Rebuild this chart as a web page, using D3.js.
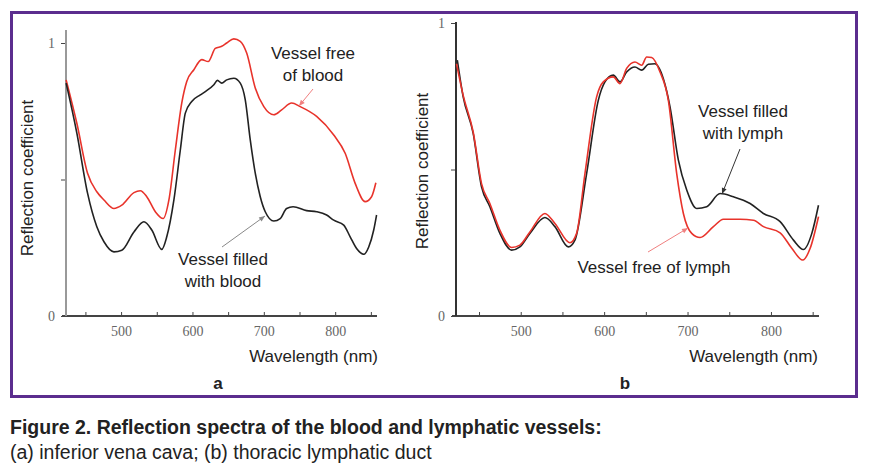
<!DOCTYPE html>
<html>
<head>
<meta charset="utf-8">
<script src="https://cdn.jsdelivr.net/npm/d3@7"></script>
<style>
  body { margin: 0; background: #fff; }
  svg { display: block; }
  .tick text { font-family: "Liberation Serif", "DejaVu Serif", serif; font-size: 14px; fill: #666; }
  .lbl { font-family: "Liberation Sans", Arial, sans-serif; font-size: 17px; fill: #222; }
</style>
</head>
<body>
<svg id="chart" width="869" height="473"></svg>
<script>
// wavelength (nm), one array per curve
const aBloodW = [423, 438, 453, 466, 476, 490, 501, 518, 532, 543, 557, 564, 574, 583, 590, 599, 611, 618, 630, 635, 641, 648, 658, 667, 674, 681, 688, 695, 702, 714, 723, 732, 741, 760, 774, 788, 798, 812, 821, 830, 840, 847, 854, 858];
const aBloodV = [0.853, 0.67, 0.45, 0.327, 0.272, 0.235, 0.241, 0.308, 0.345, 0.315, 0.244, 0.29, 0.425, 0.608, 0.743, 0.786, 0.81, 0.822, 0.847, 0.863, 0.853, 0.865, 0.871, 0.853, 0.792, 0.645, 0.523, 0.437, 0.382, 0.348, 0.357, 0.394, 0.40, 0.386, 0.382, 0.37, 0.351, 0.333, 0.29, 0.247, 0.226, 0.253, 0.315, 0.37];

const aFreeW = [423, 438, 453, 466, 476, 490, 501, 518, 527, 536, 548, 559, 567, 576, 585, 592, 602, 613, 622, 632, 641, 648, 658, 667, 676, 688, 700, 714, 725, 739, 751, 774, 798, 814, 828, 842, 851, 857];
const aFreeV = [0.865, 0.706, 0.523, 0.455, 0.425, 0.394, 0.406, 0.452, 0.459, 0.437, 0.382, 0.357, 0.425, 0.608, 0.78, 0.859, 0.902, 0.939, 0.932, 0.98, 0.988, 1.0, 1.015, 1.006, 0.963, 0.835, 0.767, 0.737, 0.755, 0.78, 0.767, 0.731, 0.663, 0.596, 0.486, 0.419, 0.437, 0.488];

const bLymphW = [424, 431, 443, 453, 463, 475, 489, 499, 511, 529, 541, 557, 565, 579, 593, 601, 611, 619, 627, 637, 645, 653, 661, 671, 679, 689, 699, 711, 723, 739, 755, 775, 791, 811, 827, 839, 849, 857];
const bLymphV = [0.873, 0.748, 0.623, 0.441, 0.373, 0.282, 0.225, 0.236, 0.282, 0.336, 0.305, 0.236, 0.259, 0.486, 0.736, 0.799, 0.822, 0.799, 0.833, 0.85, 0.839, 0.859, 0.861, 0.81, 0.714, 0.532, 0.43, 0.367, 0.373, 0.418, 0.407, 0.384, 0.35, 0.322, 0.259, 0.227, 0.282, 0.378];

const bFreeW = [423, 431, 443, 453, 463, 475, 489, 499, 511, 529, 541, 559, 567, 577, 591, 599, 611, 619, 627, 637, 645, 651, 657, 667, 677, 687, 695, 705, 715, 731, 743, 763, 779, 791, 811, 825, 838, 847, 857];
const bFreeV = [0.861, 0.753, 0.628, 0.452, 0.384, 0.293, 0.234, 0.242, 0.287, 0.35, 0.316, 0.25, 0.282, 0.486, 0.748, 0.799, 0.816, 0.793, 0.845, 0.867, 0.856, 0.884, 0.882, 0.833, 0.736, 0.486, 0.35, 0.282, 0.268, 0.305, 0.33, 0.33, 0.327, 0.305, 0.284, 0.231, 0.191, 0.231, 0.339];

const xTicks = [450, 500, 550, 600, 650, 700, 750, 800, 850];
const yTicks = [0, 0.5, 1];

const RED = "#e8332b", BLACK = "#222";

const svg = d3.select("svg#chart");

// purple frame round both panels
svg.append("rect")
  .attr("x", 11.5).attr("y", 12.5)
  .attr("width", 845).attr("height", 384)
  .attr("fill", "none")
  .attr("stroke", "#5b2d8e")
  .attr("stroke-width", 3);

const zip = (w, v) => w.map((d, i) => [d, v[i]]);

const drawPanel = (opt) => {
  const x = d3.scaleLinear().domain([420, 860]).range(opt.xr);
  const y = d3.scaleLinear().domain([0, 1]).range(opt.yr);
  const g = svg.append("g");

  const xAxis = d3.axisBottom(x)
    .tickValues(xTicks)
    .tickSize(-4)
    .tickPadding(10)
    .tickFormat((d) => d % 100 === 0 ? d : "");
  const gx = g.append("g")
    .attr("transform", `translate(0,${opt.yr[0]})`)
    .call(xAxis);
  gx.select(".domain").remove();
  gx.selectAll(".tick line").attr("stroke", "#444");
  g.append("line")
    .attr("x1", opt.axX[0]).attr("x2", opt.axX[1])
    .attr("y1", opt.yr[0]).attr("y2", opt.yr[0])
    .attr("stroke", "#444").attr("stroke-width", 2);

  const yAxis = d3.axisLeft(y)
    .tickValues(yTicks)
    .tickSize(5)
    .tickPadding(6)
    .tickFormat((d) => d === 0.5 ? "" : d);
  const gy = g.append("g")
    .attr("transform", `translate(${opt.xr[0] + opt.yOff},0)`)
    .call(yAxis);
  gy.select(".domain").remove();
  gy.selectAll(".tick line").attr("stroke", "#444");
  g.append("line")
    .attr("x1", opt.xr[0] + opt.yOff).attr("x2", opt.xr[0] + opt.yOff)
    .attr("y1", opt.yr[0]).attr("y2", opt.axTop)
    .attr("stroke", opt.yColor).attr("stroke-width", 2);

  const line = d3.line()
    .x((d) => x(d[0]))
    .y((d) => y(d[1]))
    .curve(d3.curveMonotoneX);

  opt.series.forEach((s) => {
    g.append("path")
      .datum(s.data)
      .attr("fill", "none")
      .attr("stroke", s.color)
      .attr("stroke-width", 1.6)
      .attr("d", line);
  });

  g.append("text").attr("class", "lbl")
    .attr("x", opt.wlX).attr("y", 362)
    .attr("text-anchor", "end")
    .text("Wavelength (nm)");

  g.append("text").attr("class", "lbl")
    .attr("transform", `translate(${opt.rcX},${opt.rcY}) rotate(-90)`)
    .attr("text-anchor", "middle")
    .text("Reflection coefficient");

  g.append("text")
    .attr("x", opt.letterX).attr("y", 389)
    .attr("text-anchor", "middle")
    .style("font-family", "Liberation Sans, Arial, sans-serif")
    .style("font-size", "17px").style("font-weight", "bold")
    .attr("fill", "#222")
    .text(opt.letter);

  opt.notes.forEach((n) => {
    n.lines.forEach((t, i) => {
      g.append("text").attr("class", "lbl")
        .attr("x", n.x).attr("y", n.y + i * 22)
        .attr("text-anchor", "middle")
        .text(t);
    });
    g.append("line")
      .attr("x1", n.from[0]).attr("y1", n.from[1])
      .attr("x2", n.to[0]).attr("y2", n.to[1])
      .attr("stroke", n.color).attr("stroke-width", 1);
    const ang = Math.atan2(n.to[1] - n.from[1], n.to[0] - n.from[0]);
    const L = 6, W = 2.5;
    const p = n.to;
    const b = [p[0] - L * Math.cos(ang), p[1] - L * Math.sin(ang)];
    g.append("path")
      .attr("d", `M${p[0]},${p[1]}L${b[0] - W * Math.sin(ang)},${b[1] + W * Math.cos(ang)}L${b[0] + W * Math.sin(ang)},${b[1] - W * Math.cos(ang)}Z`)
      .attr("fill", n.color);
  });
};

drawPanel({
  xr: [64, 378], yr: [316, 43], yOff: 2, axX: [62, 377], axTop: 30, yColor: "#999",
  wlX: 378, rcX: 33, rcY: 178, letterX: 218, letter: "a",
  series: [
    { data: zip(aFreeW, aFreeV), color: RED },
    { data: zip(aBloodW, aBloodV), color: BLACK }
  ],
  notes: [
    { lines: ["Vessel free", "of blood"], x: 313, y: 59, color: "#f08080", from: [313, 89], to: [299, 106] },
    { lines: ["Vessel filled", "with blood"], x: 223, y: 265, color: "#888", from: [222, 247], to: [265, 216] }
  ]
});

drawPanel({
  xr: [454, 821], yr: [316, 23], yOff: 2, axX: [452, 819], axTop: 22, yColor: "#333",
  wlX: 818, rcX: 428, rcY: 171, letterX: 625, letter: "b",
  series: [
    { data: zip(bLymphW, bLymphV), color: BLACK },
    { data: zip(bFreeW, bFreeV), color: RED }
  ],
  notes: [
    { lines: ["Vessel filled", "with lymph"], x: 743, y: 117, color: "#333", from: [740, 149], to: [722, 194] },
    { lines: ["Vessel free of lymph"], x: 654, y: 273, color: "#f08080", from: [648, 252], to: [688, 228] }
  ]
});

// caption below the frame
svg.append("text")
  .attr("x", 10).attr("y", 434)
  .style("font-family", "Liberation Sans, Arial, sans-serif")
  .style("font-size", "19.5px").style("font-weight", "bold")
  .attr("fill", "#222")
  .text("Figure 2. Reflection spectra of the blood and lymphatic vessels:");
svg.append("text")
  .attr("x", 10).attr("y", 459)
  .style("font-family", "Liberation Sans, Arial, sans-serif")
  .style("font-size", "19.5px")
  .attr("fill", "#222")
  .text("(a) inferior vena cava; (b) thoracic lymphatic duct");
</script>
</body>
</html>
